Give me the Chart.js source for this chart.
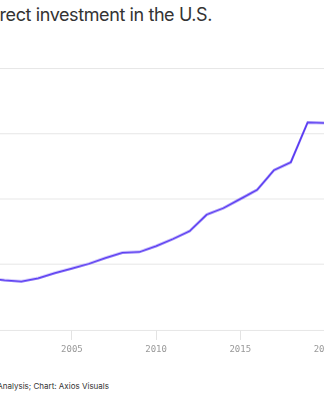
<!DOCTYPE html>
<html>
<head>
<meta charset="utf-8">
<script src="https://cdn.jsdelivr.net/npm/chart.js@4/dist/chart.umd.min.js"></script>
<style>
  html, body { margin: 0; padding: 0; background: #fff; }
  body { width: 324px; height: 400px; overflow: hidden; position: relative; }
  #title {
    position: absolute; right: 112px; top: 4px; white-space: nowrap;
    font-family: Inter, "Noto Sans", sans-serif; font-size: 18px; color: #333; letter-spacing: -0.4px;
  }
  #source {
    position: absolute; right: 215px; top: 381px; white-space: nowrap;
    font-family: Inter, "Noto Sans", sans-serif; font-size: 8px; color: #333;
  }
  #wrap { position: absolute; left: -29px; top: 68px; width: 387px; height: 290px; }
</style>
</head>
<body>
<div id="title">Foreign direct investment in the U.S.</div>
<div id="wrap"><canvas id="chart"></canvas></div>
<div id="source">Data: Bureau of Economic Analysis; Chart: Axios Visuals</div>
<script>
const years = [2000, 2001, 2002, 2003, 2004, 2005, 2006, 2007, 2008, 2009, 2010,
  2011, 2012, 2013, 2014, 2015, 2016, 2017, 2018, 2019, 2020]
const investment = [0.79, 0.76, 0.74, 0.79, 0.87, 0.94, 1.01, 1.10, 1.18, 1.19, 1.28,
  1.39, 1.51, 1.76, 1.86, 2.00, 2.14, 2.44, 2.56, 3.17, 3.16]
const yTicks = [0, 1, 2, 3, 4]

// where the visible crop sits on the scales
const ANCHOR_YEAR = 2005, ANCHOR_X = 71.7
const PX_PER_YEAR = 16.84
const TOP_Y = 68, BOTTOM_Y = 330

const chart = new Chart(document.getElementById('chart'), {
  type: 'line',
  data: {
    datasets: [{
      data: years.map((y, i) => ({ x: y, y: investment[i] })),
      borderColor: '#5a3cf2',
      borderWidth: 2,
      pointRadius: 0,
      tension: 0,
      fill: false,
    }],
  },
  options: {
    responsive: true,
    maintainAspectRatio: false,
    animation: false,
    layout: { padding: 0 },
    plugins: { legend: { display: false }, tooltip: { enabled: false } },
    scales: {
      x: {
        type: 'linear',
        min: 1999,
        max: 2022,
        border: { display: false },
        grid: { drawOnChartArea: false, color: '#e3e3e3', tickLength: 10 },
        ticks: {
          stepSize: 5,
          padding: 4,
          color: '#999',
          font: { family: '"DejaVu Sans Mono", monospace', size: 9 },
          callback: (v) => String(v),
        },
      },
      y: {
        min: yTicks[0],
        max: yTicks[yTicks.length - 1],
        border: { display: false },
        grid: { drawTicks: false, color: '#e6e6e6' },
        ticks: { display: false, stepSize: 1 },
      },
    },
  },
})

// fit the wrapper so the scales land on the crop
const wrap = document.getElementById('wrap')
const sx = chart.scales.x
const wantW = (sx.max - sx.min) * PX_PER_YEAR
const wantH = BOTTOM_Y - TOP_Y
wrap.style.width = (wrap.offsetWidth + wantW - chart.chartArea.width) + 'px'
wrap.style.height = (wrap.offsetHeight + wantH - chart.chartArea.height) + 'px'
chart.resize()
const shiftX = ANCHOR_X - chart.scales.x.getPixelForValue(ANCHOR_YEAR)
const shiftY = TOP_Y - chart.scales.y.getPixelForValue(yTicks[yTicks.length - 1])
wrap.style.left = shiftX + 'px'
wrap.style.top = shiftY + 'px'
</script>
</body>
</html>
